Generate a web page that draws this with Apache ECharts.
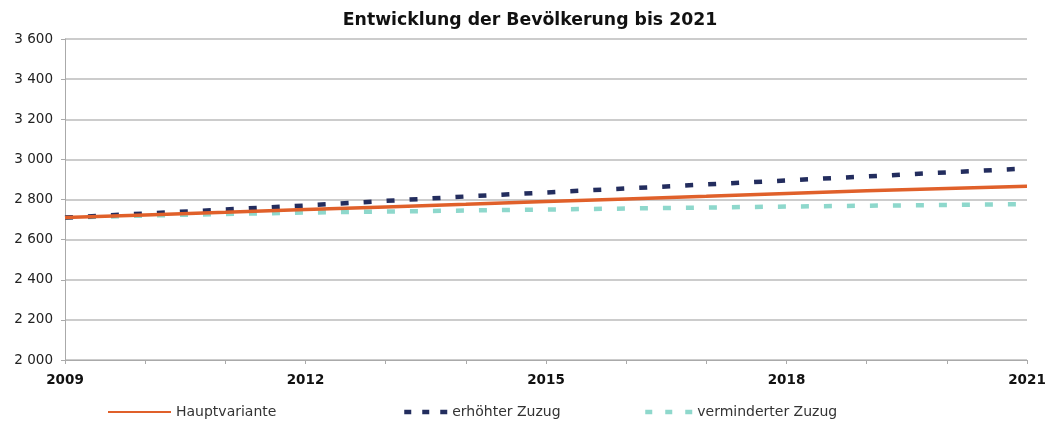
<!DOCTYPE html>
<html><head><meta charset="utf-8">
<script src="https://cdn.jsdelivr.net/npm/echarts@6/dist/echarts.min.js"></script>
<style>html,body{margin:0;padding:0;background:#fff}#c{width:1049px;height:423px}</style>
</head><body><div id="c"></div>
<script>
const years = ['2009','2010','2011','2012','2013','2014','2015','2016','2017','2018','2019','2020','2021'];
const hauptvariante = [2710,2723,2736,2750,2763,2776,2790,2803,2816,2830,2843,2855,2866];
const erhoehterZuzug = [2710,2730,2750,2770,2793,2815,2835,2855,2875,2895,2915,2935,2955];
const verminderterZuzug = [2710,2720,2728,2735,2740,2745,2750,2755,2760,2765,2769,2773,2777];
const yTicks = {min:2000, max:3600, interval:200};

const FONT = 'DejaVu Sans, Liberation Sans, Arial';
const chart = echarts.init(document.getElementById('c'));
const fmt = v => { const s = String(v); return s.length > 3 ? s.slice(0, s.length-3) + ' ' + s.slice(-3) : s; };
const legendBase = {top: 405, padding: 0, itemHeight: 12, itemGap: 4,
  itemStyle: {opacity: 0},
  textStyle: {fontFamily: FONT, fontSize: 14, color: '#333'}};
chart.setOption({
  animation: false,
  title: {text: 'Entwicklung der Bevölkerung bis 2021', left: 525, textAlign: 'center', top: 7,
    textStyle: {fontFamily: FONT, fontSize: 17.3, fontWeight: 'bold', color: '#111'}},
  grid: {left: 65, right: 22, top: 39, bottom: 63},
  legend: [
    Object.assign({}, legendBase, {left: 107, itemWidth: 63, data: ['Hauptvariante']}),
    Object.assign({}, legendBase, {left: 402, itemWidth: 43, lineStyle: {type: [7, 11], width: 4.5}, data: ['erhöhter Zuzug']}),
    Object.assign({}, legendBase, {left: 643, itemWidth: 47, lineStyle: {type: [7, 13], width: 4.5}, data: ['verminderter Zuzug']})
  ],
  xAxis: {type: 'category', data: years, boundaryGap: false,
    axisLine: {lineStyle: {color: '#aaa'}},
    axisTick: {show: true, interval: 0, length: 4, lineStyle: {color: '#aaa'}},
    axisLabel: {interval: 2, margin: 13, fontFamily: FONT, fontSize: 13.5, fontWeight: 'bold', color: '#111'},
    splitLine: {show: false}},
  yAxis: {type: 'value', min: yTicks.min, max: yTicks.max, interval: yTicks.interval,
    axisLine: {show: true, lineStyle: {color: '#aaa'}},
    axisTick: {show: true, length: 4, lineStyle: {color: '#aaa'}},
    axisLabel: {formatter: fmt, margin: 12, fontFamily: FONT, fontSize: 13.5, color: '#222'},
    splitLine: {lineStyle: {color: '#bbb', width: 1.5}}},
  series: [
    {name: 'Hauptvariante', type: 'line', data: hauptvariante, symbol: 'none', z: 3,
      lineStyle: {color: '#e0602a', width: 3.5}, itemStyle: {color: '#e0602a'}},
    {name: 'erhöhter Zuzug', type: 'line', data: erhoehterZuzug, symbol: 'none', z: 2,
      lineStyle: {color: '#232d5e', width: 4.5, type: [8, 15]}, itemStyle: {color: '#232d5e'}},
    {name: 'verminderter Zuzug', type: 'line', data: verminderterZuzug, symbol: 'none', z: 1,
      lineStyle: {color: '#8ed8cc', width: 4.5, type: [8, 15]}, itemStyle: {color: '#8ed8cc'}}
  ]
});
</script></body></html>
